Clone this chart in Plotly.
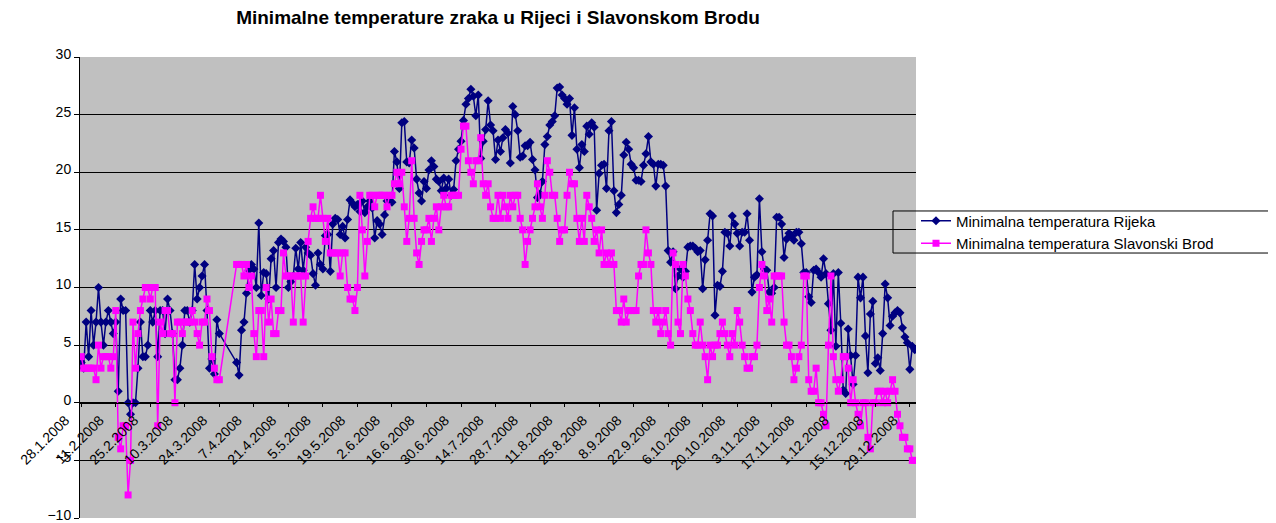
import pandas as pd
import plotly.graph_objects as go

START_DATE = "2008-01-28"
N_DAYS = 339

TITLE = "Minimalne temperature zraka u Rijeci i Slavonskom Brodu"
NAME_RIJEKA = "Minimalna temperatura Rijeka"
NAME_SB = "Minimalna temperatura Slavonski Brod"

TICK_LABELS = ["28.1.2008", "11.2.2008", "25.2.2008", "10.3.2008", "24.3.2008",
               "7.4.2008", "21.4.2008", "5.5.2008", "19.5.2008", "2.6.2008",
               "16.6.2008", "30.6.2008", "14.7.2008", "28.7.2008", "11.8.2008",
               "25.8.2008", "8.9.2008", "22.9.2008", "6.10.2008", "20.10.2008",
               "3.11.2008", "17.11.2008", "1.12.2008", "15.12.2008", "29.12.2008"]

Y_TICKS = [-10, -5, 0, 5, 10, 15, 20, 25, 30]

rijeka = [
    3.5, 3, 7, 4, 8, 5, 7, 10, 7, 5,
    7, 8, 7, 6, 7, 1, 9, 8, 8, 0,
    -1, 0, 0, 3, 7, 4, 4, 5, 8, 7,
    8, 4, 8, 8, 6, 9, 8, 6, 2, 2,
    3, 5, 8, 8, 7, 8, 12, 9, 10, 11,
    12, 8, 3, 3.8, 2.5, 7.2, 6, None, None, None,
    None, None, None, 3.5, 2.4, 6.3, 7, 9.5, 11.5, 12,
    11.6, 10, 15.6, 9.3, 11.3, 11.2, 9, 12.5, 13.2, 10,
    13.9, 14.2, 14, 13.5, 10, 10.5, 11, 13.4, 11.6, 13.9,
    11.5, 13.5, 13, 12.8, 11.2, 10.2, 13, 12, 11.6, 14.5,
    14.6, 11.4, 15.5, 16, 15.9, 14.6, 15.3, 14.3, 15.9, 17.6,
    17.3, 17, 17.2, 16.6, 17.5, 16.5, 17, 17.5, 16.9, 14.3,
    15.8, 15.5, 14.6, 16.3, 17.5, 17.5, 17.4, 21.8, 20.9, 18.6,
    24.3, 24.4, 20.9, 20.8, 22.8, 22.1, 19.4, 18.2, 17.5, 19.2,
    18.6, 20.2, 21, 20.5, 19.4, 19.2, 18.4, 19.5, 18.6, 19.4,
    18, 18.5, 21, 22, 22.7, 24.5, 25.9, 26.4, 27.2, 26.6,
    24.9, 26.7, 21.2, 22.7, 23.7, 26.2, 24.1, 23.6, 21.1, 22.8,
    21.8, 23, 23.7, 23.4, 20.8, 25.7, 25, 23.6, 21.3, 21.4,
    22.3, 22.3, 22.6, 21.1, 20.2, 17.8, 18.1, 19.2, 22.4, 23.1,
    24.1, 24.4, 24.9, 27.3, 27.4, 26.7, 26.4, 25.9, 26.4, 23.2,
    25.6, 22, 20.4, 22.4, 21.8, 24, 23.3, 24.3, 23.9, 16.7,
    19.9, 20.6, 20.7, 18.6, 23.6, 24.4, 18.4, 16.5, 17.2, 18,
    21.5, 22.6, 22, 20.7, 20.4, 19.3, 19.3, 19.2, 20.6, 21.6,
    23.1, 20.9, 20.7, 18.8, 20.7, 20.7, 20.6, 18.8, 13.2, 12.2,
    13.1, 9.9, 11, 11.6, 10.9, 11.4, 13.5, 13.6, 13.6, 13.4,
    13.1, 13.2, 9.9, 12.4, 14.1, 16.4, 16.2, 7.6, 10.2, 10.1,
    11.4, 14.8, 14.7, 13.6, 16.2, 15.5, 14.7, 13.6, 14.8, 14.8,
    16.4, 14.1, 9.6, 10.9, 11.1, 17.7, 13.1, 11.6, 11.5, 9.6,
    9.5, 10, 16.1, 16.1, 15.5, 12.6, 14.2, 14.7, 14.5, 14.1,
    14.8, 14.8, 13.8, 11.3, 11.3, 9.2, 8.7, 11.5, 11.6, 11.3,
    10.9, 12.5, 11.2, 8.6, 6.3, 11.2, 4.9, 11.3, 6.9, 1.1,
    0.8, 6.4, 4.1, 1.6, 4.1, 10.9, 9.1, 10.9, 5.8, 2.6,
    7.7, 8.8, 3.4, 3.9, 2.8, 6, 10.3, 9.1, 6.7, 7.5,
    7.8, 8, 7.8, 6.5, 5.7, 5.2, 2.9, 4.9, 4.6,
]

slavonski_brod = [
    4, 3, 3, 3, 3, 3, 2, 5, 3, 4,
    4, 4, 3, 4, 8, -3, -4, -2, -2, -8,
    -5, 7, 3, 6, 8, 9, 10, 10, 9, 10,
    10, -2, 7, 6, 8, 8, 6, 6, 0, 7,
    7, 6, 7, 7, 7, 8, 7, 6, 5, 7,
    7, 9, 8, 4, 3, 2, 2, None, None, None,
    None, None, None, 12, 12, 12, 11, 12, 10, 11,
    6, 4, 8, 8, 4, 10, 7, 9, 6, 6,
    8, 8, 13, 11, 11, 11, 7, 11, 11, 11,
    7, 11, 14, 16, 17, 16, 16, 18, 16, 14,
    16, 13, 13, 13, 13, 11, 13, 13, 10, 9,
    9, 8, 10, 18, 15, 11, 14, 18, 18, 17,
    18, 18, 18, 18, 17, 18, 18, 19, 20, 19,
    20, 17, 14, 16, 21, 16, 13, 12, 14, 15,
    15, 16, 14, 16, 17, 15, 17, 18, 17, 17,
    18, 18, 18, 18, 22, 24, 24, 21, 20, 19,
    21, 21, 23, 19, 18, 19, 17, 16, 16, 18,
    16, 18, 17, 16, 18, 17, 18, 18, 16, 15,
    12, 14, 15, 16, 17, 19, 17, 16, 18, 21,
    20, 18, 18, 16, 14, 15, 15, 18, 20, 19,
    19, 16, 14, 16, 14, 18, 17, 16, 14, 15,
    13, 15, 12, 13, 12, 13, 12, 8, 8, 7,
    9, 7, 8, 8, 8, 8, 11, 12, 12, 15,
    13, 12, 8, 7, 8, 6, 7, 8, 6, 5,
    13, 12, 7, 6, 12, 11, 9, 8, 6, 5,
    5, 7, 5, 4, 2, 5, 4, 5, 5, 6,
    7, 6, 5, 4, 6, 5, 8, 7, 5, 4,
    3, 3, 4, 4, 5, 10, 12, 11, 8, 9,
    7, 11, 11, 11, 11, 7, 5, 5, 4, 2,
    3, 4, 5, 11, 11, 2, 1, 1, 3, 0,
    0, -1, -2, 5, 11, 4, 2, 1, 2, 4,
    4, 3, 0, 2, 0, -1, -2, 0, 0, -3,
    -4, 0, 0, 1, 1, 0, 1, 0, 1, 2,
    1, -1, -2, -3, -3, -4, -4, -5, -5,
]

dates = pd.date_range(START_DATE, periods=N_DAYS, freq="D")
tick_dates = dates[::14][:len(TICK_LABELS)]

fig = go.Figure()
fig.add_trace(go.Scatter(
    x=dates, y=rijeka, name=NAME_RIJEKA, mode="lines+markers",
    connectgaps=True,
    line=dict(color="#000080", width=1.5),
    marker=dict(symbol="diamond", size=7, color="#000080"),
))
fig.add_trace(go.Scatter(
    x=dates, y=slavonski_brod, name=NAME_SB, mode="lines+markers",
    connectgaps=True,
    line=dict(color="#FF00FF", width=1.5),
    marker=dict(symbol="square", size=7, color="#FF00FF"),
))

# legend frame (wider than plotly's own legend box)
fig.add_shape(type="rect", xref="paper", yref="paper",
              x0=0.9725, x1=1.427, y0=0.5748, y1=0.666,
              line=dict(color="black", width=1), fillcolor="rgba(0,0,0,0)",
              layer="above")

# the page body adds an 8px margin; the figure is sized to compensate
fig.update_layout(
    width=1268, height=515, autosize=False,
    margin=dict(l=72, r=360, t=49, b=5, autoexpand=False),
    paper_bgcolor="white", plot_bgcolor="#C0C0C0",
    font=dict(family="Arial, Liberation Sans, sans-serif", color="black"),
    title=dict(text="<b>" + TITLE + "</b>", x=0.5, xref="paper", xanchor="center",
               y=1 - 3 / 515, yref="container", yanchor="top", pad=dict(t=0, b=0),
               font=dict(size=19, color="black")),
    showlegend=True,
    legend=dict(x=1.0, y=0.6204, xanchor="left", yanchor="middle",
                bgcolor="rgba(0,0,0,0)", borderwidth=0,
                font=dict(size=15, color="black"), tracegroupgap=0),
    xaxis=dict(type="date",
               range=[dates[0] - pd.Timedelta(hours=12), dates[-1] + pd.Timedelta(hours=12)],
               tickmode="array", tickvals=tick_dates, ticktext=TICK_LABELS,
               tickangle=-45, tickfont=dict(size=14, color="black"),
               showline=True, linecolor="black", linewidth=1,
               ticks="outside", ticklen=3, tickcolor="black",
               anchor="free", position=0.25, showgrid=False, zeroline=False,
               ticklabelshift=-16, ticklabeloverflow="allow", automargin=False),
    yaxis=dict(range=[-10, 30], tickmode="array", tickvals=Y_TICKS,
               showgrid=True, gridcolor="black", gridwidth=1,
               showline=True, linecolor="black", linewidth=1,
               ticks="outside", ticklen=5, tickcolor="black",
               tickfont=dict(size=14, color="black"), zeroline=False,
               ticklabelshift=-3, ticklabeloverflow="allow", automargin=False),
)

fig.write_html("out.html")
